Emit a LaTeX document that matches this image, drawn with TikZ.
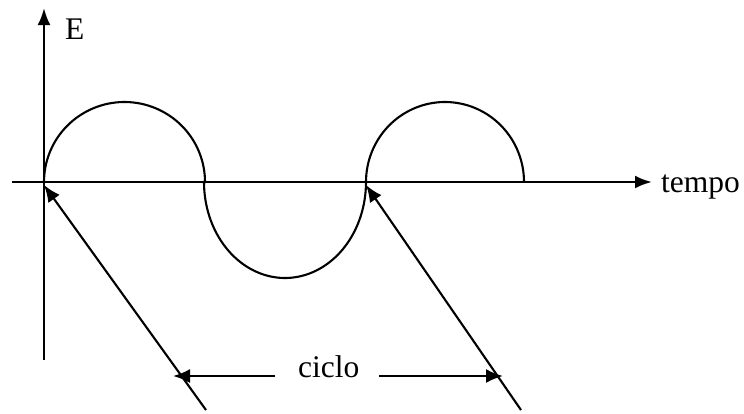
\documentclass[tikz,border=0pt]{standalone}
\usepackage{fontspec}
\setmainfont{Liberation Serif}
\usetikzlibrary{arrows.meta}
\begin{document}
\begin{tikzpicture}[x=1pt,y=-1pt,
  axis/.style={line width=2.6pt,-{Latex[length=17pt,width=13pt]}},
  wave/.style={line width=2.1pt},
  pointer/.style={line width=2.1pt,-{Latex[length=17pt,width=14pt]}},
  lbl/.style={inner sep=0pt,anchor=base west,font=\fontsize{31.5}{36}\selectfont}]
\useasboundingbox (0,0) rectangle (744,413);
% axes
\coordinate (ybot) at (44,360);
\coordinate (ytop) at (44,8);
\coordinate (xl) at (12,182);
\coordinate (xr) at (652,182);
\draw[axis] (ybot) -- (ytop);
\draw[axis] (xl) -- (xr);
% labels
\node[lbl] (E) at (65,39) {E};
\node[lbl] (tempo) at (661,192) {tempo};
\node[lbl] (ciclo) at (298,377) {ciclo};
% wave
\draw[wave] plot[domain=180:0,samples=70] ({124.5+80.5*cos(\x)},{182-80*sin(\x)})
  -- plot[domain=180:360,samples=70] ({285+81*cos(\x)},{182-96*sin(\x)})
  -- plot[domain=180:0,samples=70] ({445+79*cos(\x)},{182-80*sin(\x)});
% pointers
\coordinate (p1tip) at (44,185);
\coordinate (p1bot) at (206,410);
\coordinate (p2tip) at (366,185);
\coordinate (p2bot) at (521,410);
\draw[pointer] (p1bot) -- (p1tip);
\draw[pointer] (p2bot) -- (p2tip);
% ciclo arrows
\coordinate (c1s) at (275,376);
\coordinate (c1t) at (173,376);
\coordinate (c2s) at (379,376);
\coordinate (c2t) at (503,376);
\draw[pointer] (c1s) -- (c1t);
\draw[pointer] (c2s) -- (c2t);
\end{tikzpicture}
\end{document}
